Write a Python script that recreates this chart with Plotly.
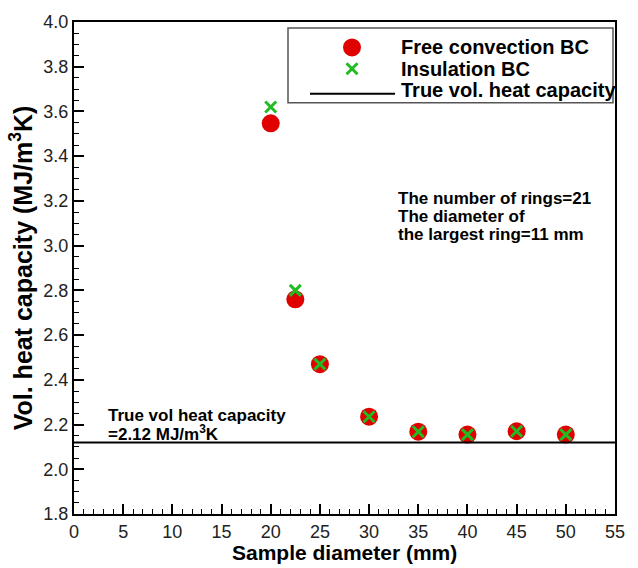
import plotly.graph_objects as go

diameters = [20, 22.5, 25, 30, 35, 40, 45, 50]
free_conv = [3.547, 2.76, 2.47, 2.235, 2.168, 2.155, 2.17, 2.155]
insulation = [3.62, 2.80, 2.47, 2.235, 2.168, 2.155, 2.17, 2.155]
true_x = [0, 55]
true_val = [2.12, 2.12]

legend_labels = ["Free convection BC", "Insulation BC", "True vol. heat capacity"]
note_lines = ["The number of rings=21", "The diameter of", "the largest ring=11 mm"]
true_note_lines = ["True vol heat capacity", "=2.12 MJ/m<sup>3</sup>K"]

FONT = "Liberation Sans, Arial, sans-serif"
RED = "#e00000"
GREEN = "#22bb22"

# plot-area pixel geometry (for placing the legend box)
L, R, T, B = 74, 615, 20, 514
W, H = 638, 568
def px(xp):
    return (xp - L) / (R - L)
def py(yp):
    return (B - yp) / (B - T)

fig = go.Figure()
fig.add_trace(go.Scatter(x=diameters, y=free_conv, mode="markers", name=legend_labels[0],
                         marker=dict(symbol="circle", size=18, color=RED), showlegend=False))
fig.add_trace(go.Scatter(x=diameters, y=insulation, mode="markers", name=legend_labels[1],
                         marker=dict(symbol="x-thin", size=11, color=GREEN,
                                     line=dict(width=3, color=GREEN)), showlegend=False))
fig.add_trace(go.Scatter(x=true_x, y=true_val, mode="lines", name=legend_labels[2],
                         line=dict(color="black", width=2), showlegend=False))

# legend samples on an overlay axis in paper-like units
row_y = [py(45.5), py(67), py(88.5)]
sym_x = px(352)
fig.add_trace(go.Scatter(x=[sym_x], y=[row_y[0]], xaxis="x2", yaxis="y2", mode="markers",
                         marker=dict(symbol="circle", size=18, color=RED), showlegend=False, hoverinfo="skip"))
fig.add_trace(go.Scatter(x=[sym_x], y=[row_y[1]], xaxis="x2", yaxis="y2", mode="markers",
                         marker=dict(symbol="x-thin", size=11, color=GREEN, line=dict(width=3, color=GREEN)),
                         showlegend=False, hoverinfo="skip"))
fig.add_trace(go.Scatter(x=[px(310), px(395)], y=[py(92), py(92)], xaxis="x2", yaxis="y2", mode="lines",
                         line=dict(color="black", width=2), showlegend=False, hoverinfo="skip"))

def axis_common():
    return dict(showgrid=False, zeroline=False, showline=True, linecolor="black", linewidth=2,
                mirror=True, ticks="inside", tickcolor="black", tickwidth=2, ticklen=10,
                tickfont=dict(family=FONT, size=18, color="#222"))

xaxis = dict(range=[0, 55], dtick=5, tick0=0, tickmode="linear",
             minor=dict(dtick=1, ticks="inside", ticklen=5, tickcolor="black", tickwidth=1),
             **axis_common())
yaxis = dict(range=[1.8, 4.0], dtick=0.2, tick0=1.8, tickmode="linear", tickformat=".1f",
             minor=dict(dtick=0.05, ticks="inside", ticklen=5, tickcolor="black", tickwidth=1),
             title=dict(text="<b>Vol. heat capacity (MJ/m<sup>3</sup>K)</b>", font=dict(family=FONT, size=25, color="black"),
                        standoff=4),
             **axis_common())

# x-axis title placed as annotation for exact vertical position
fig.add_annotation(x=0.5, xref="paper", y=py(553), yref="paper", xanchor="center", yanchor="middle",
                   text="<b>Sample diameter (mm)</b>", showarrow=False,
                   font=dict(family=FONT, size=21, color="black"))

for i, line in enumerate(true_note_lines):
    fig.add_annotation(x=px(106), xref="paper", y=py(415 + 18 * i), yref="paper", xanchor="left", yanchor="middle",
                       text="<b>" + line + "</b>", showarrow=False, align="left",
                       font=dict(family=FONT, size=17, color="black"))
for i, line in enumerate(note_lines):
    fig.add_annotation(x=px(396), xref="paper", y=py(197 + 18 * i), yref="paper", xanchor="left", yanchor="middle",
                       text="<b>" + line + "</b>", showarrow=False, align="left",
                       font=dict(family=FONT, size=17, color="black"))
for i, lab in enumerate(legend_labels):
    fig.add_annotation(x=px(399), xref="paper", y=row_y[i], yref="paper", xanchor="left", yanchor="middle",
                       text="<b>" + lab + "</b>", showarrow=False, align="left",
                       font=dict(family=FONT, size=20, color="black"))

fig.add_shape(type="rect", xref="paper", yref="paper", x0=px(288), x1=px(613), y0=py(101), y1=py(26),
              line=dict(color="#555", width=1.5), fillcolor="white", layer="below")

fig.update_layout(
    width=W, height=H,
    margin=dict(l=L, r=W - R, t=T, b=H - B),
    paper_bgcolor="white", plot_bgcolor="white",
    font=dict(family=FONT, color="black"),
    xaxis=xaxis, yaxis=yaxis,
    xaxis2=dict(overlaying="x", range=[0, 1], visible=False, anchor="y2"),
    yaxis2=dict(overlaying="y", range=[0, 1], visible=False, anchor="x2"),
    showlegend=False,
)

fig.write_html("out.html")
